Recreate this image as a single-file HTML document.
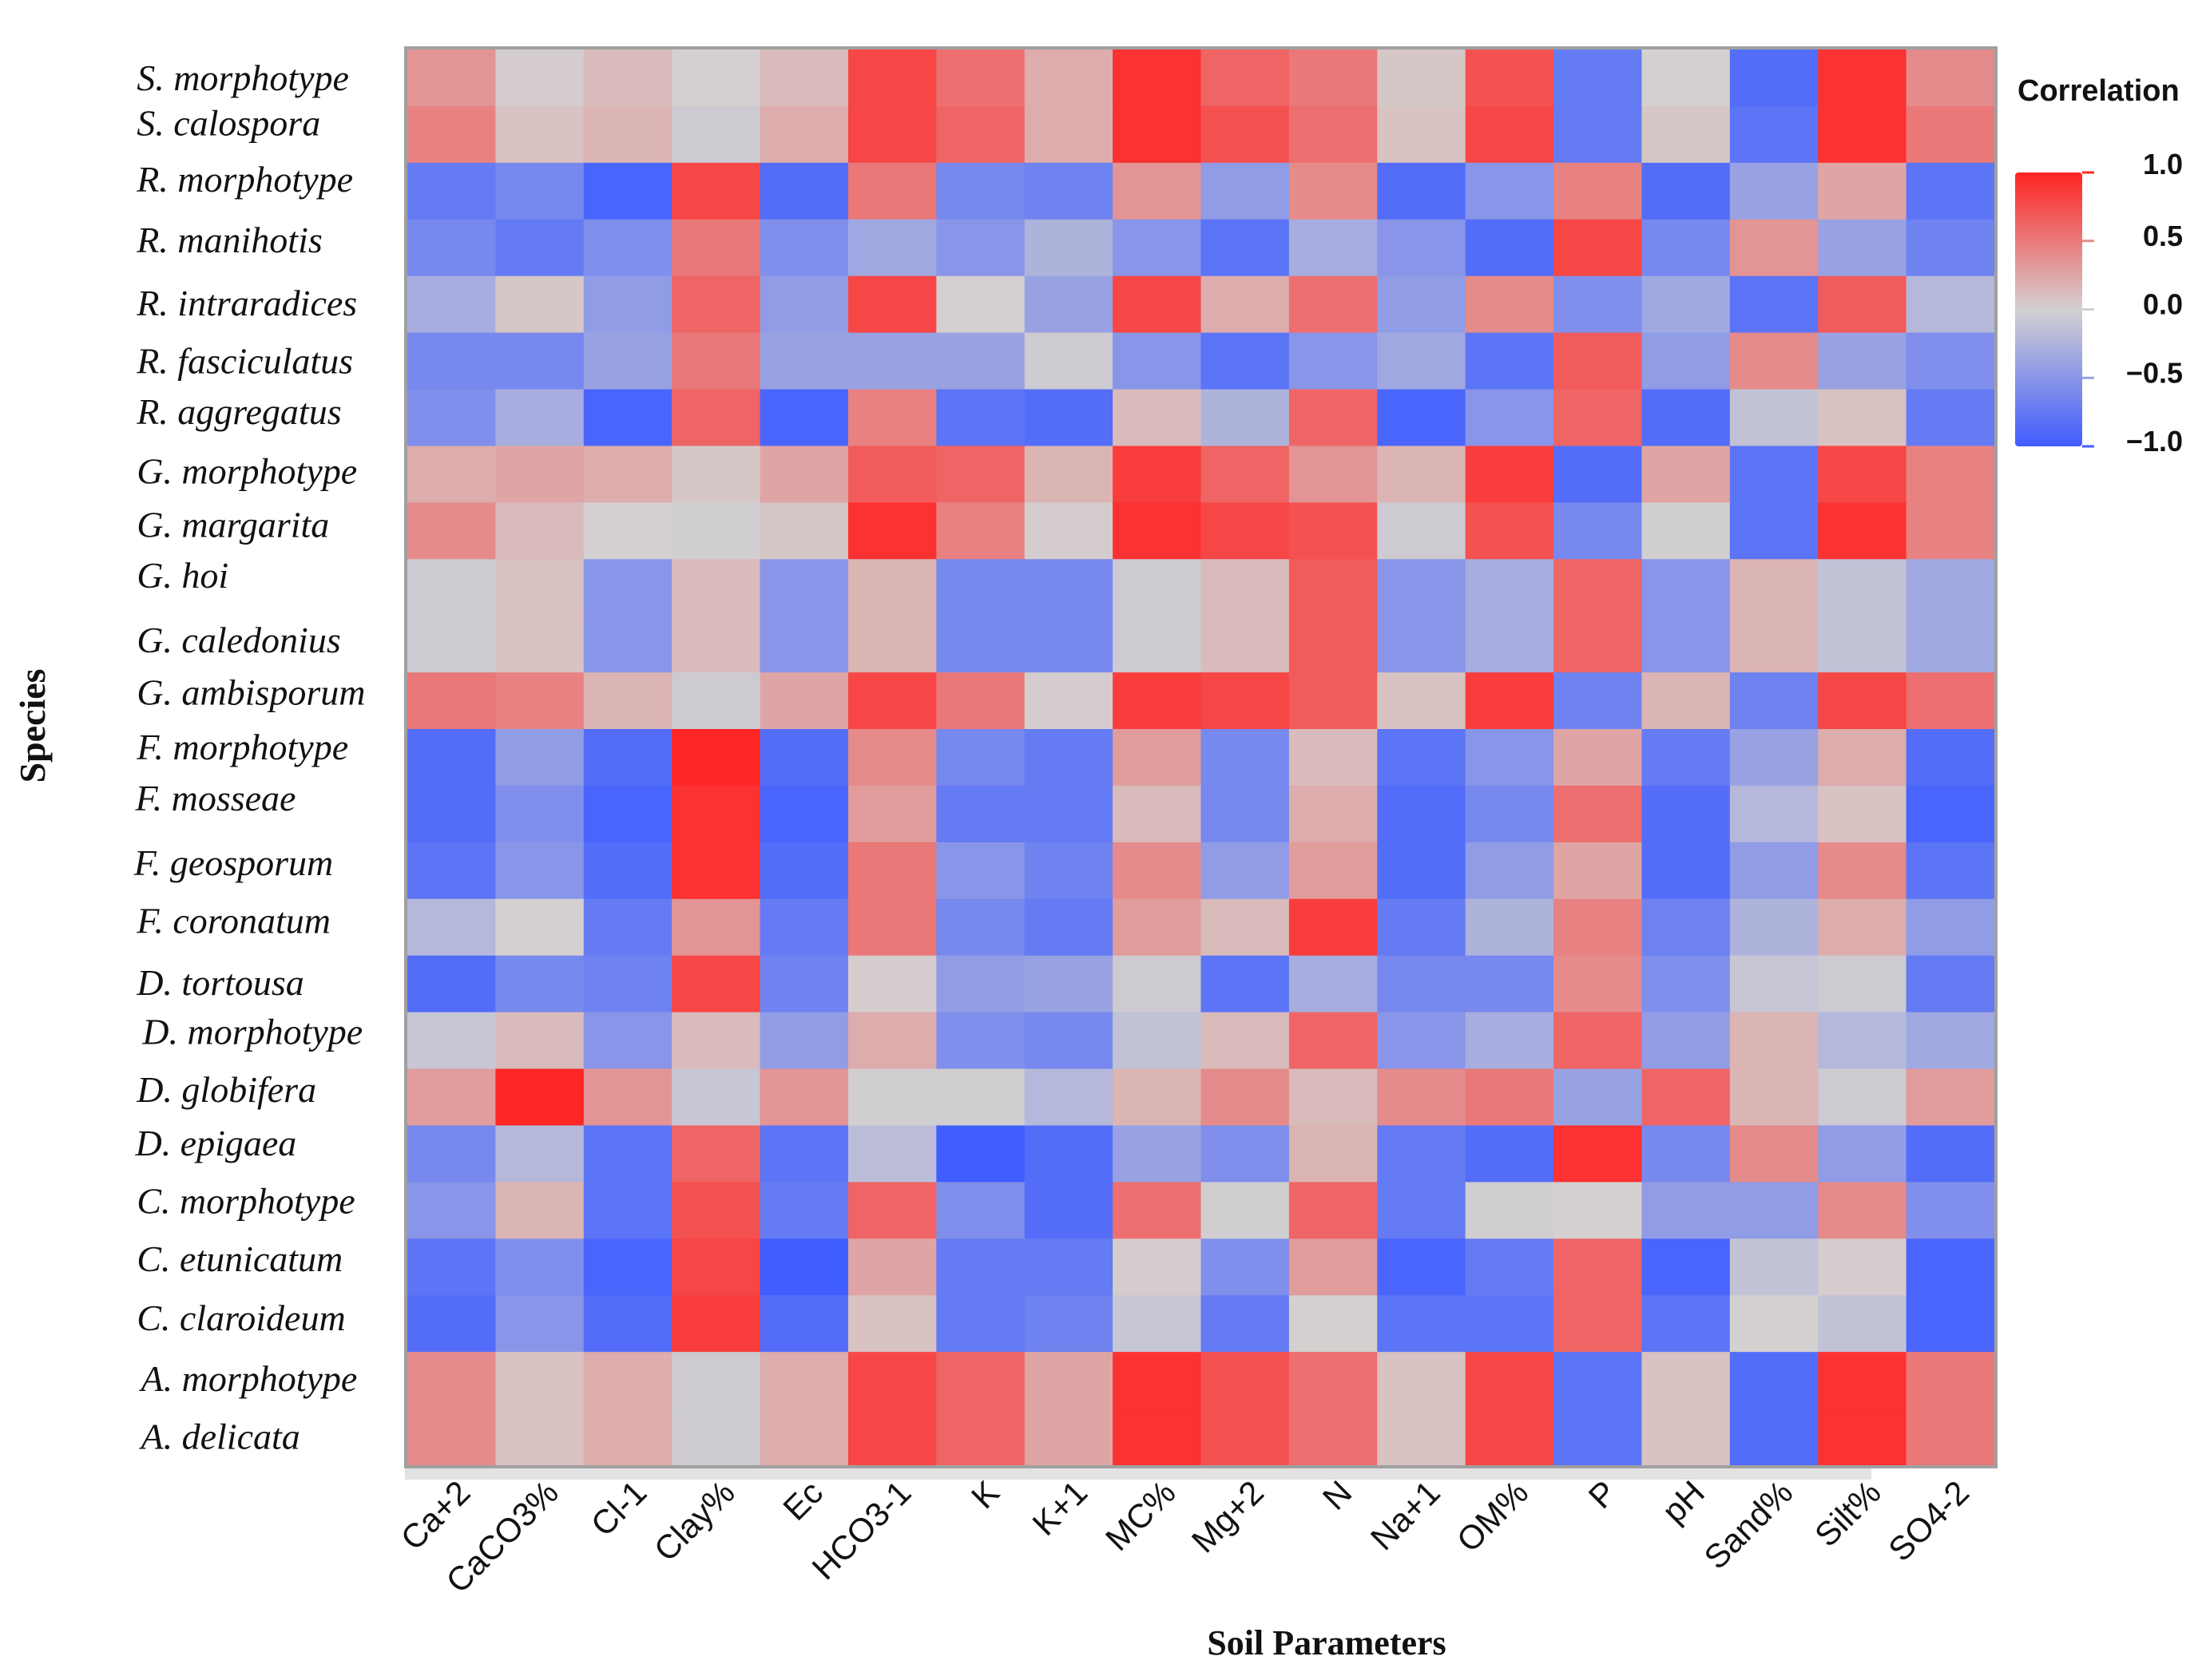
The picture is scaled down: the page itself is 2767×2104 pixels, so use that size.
<!DOCTYPE html>
<html><head><meta charset="utf-8"><style>
html,body{margin:0;padding:0;background:#fff;}
svg{display:block;}
.yl{font-family:"Liberation Serif",serif;font-style:italic;font-size:46px;fill:#111;}
.xl{font-family:"Liberation Sans",sans-serif;font-size:42px;fill:#111;}
.lg{font-family:"Liberation Sans",sans-serif;font-weight:bold;font-size:36px;fill:#111;}
</style></head><body>
<svg id="chart" width="2767" height="2104" viewBox="0 0 2767 2104">
<defs><linearGradient id="cb" x1="0" y1="0" x2="0" y2="1">
<stop offset="0" stop-color="rgb(255,35,35)"/><stop offset="0.5" stop-color="rgb(212,208,208)"/><stop offset="1" stop-color="rgb(64,92,255)"/>
</linearGradient></defs>
<g id="cells"></g>
<rect x="508" y="60" width="1991" height="1777" fill="none" stroke="#a0a0a0" stroke-width="4"/>
<rect x="507" y="1839" width="1836" height="14" fill="#e2e2e2"/>
<g id="ylabels"></g>
<g id="xlabels"></g>
<text x="1661" y="2072" text-anchor="middle" style="font-family:'Liberation Serif',serif;font-weight:bold;font-size:44px" fill="#111">Soil Parameters</text>
<text x="0" y="0" transform="translate(56,909) rotate(-90)" text-anchor="middle" style="font-family:'Liberation Serif',serif;font-weight:bold;font-size:46px" fill="#111">Species</text>
<g>
<text class="lg" x="2526" y="126" style="font-size:38px">Correlation</text>
<rect x="2523" y="216" width="84" height="343" rx="4" fill="url(#cb)"/>
<g id="legticks"></g>
</g>
</svg>
<script>
const species = ["S. morphotype","S. calospora","R. morphotype","R. manihotis","R. intraradices","R. fasciculatus","R. aggregatus","G. morphotype","G. margarita","G. hoi","G. caledonius","G. ambisporum","F. morphotype","F. mosseae","F. geosporum","F. coronatum","D. tortousa","D. morphotype","D. globifera","D. epigaea","C. morphotype","C. etunicatum","C. claroideum","A. morphotype","A. delicata"];
const params = ["Ca+2","CaCO3%","Cl-1","Clay%","Ec","HCO3-1","K","K+1","MC%","Mg+2","N","Na+1","OM%","P","pH","Sand%","Silt%","SO4-2"];
const legendTicks = [1.0,0.5,0.0,-0.5,-1.0];
const legendTickLabels = ["1.0","0.5","0.0","\u22120.5","\u22121.0"];
const corr = [
[0.45,0.05,0.2,0.0,0.2,0.85,0.65,0.3,0.95,0.7,0.6,0.1,0.8,-0.8,0.0,-0.9,0.95,0.5],
[0.55,0.15,0.25,-0.1,0.3,0.85,0.7,0.3,0.95,0.8,0.65,0.15,0.85,-0.8,0.1,-0.85,0.95,0.6],
[-0.8,-0.7,-0.95,0.85,-0.9,0.6,-0.7,-0.75,0.45,-0.55,0.5,-0.9,-0.6,0.55,-0.9,-0.5,0.35,-0.85],
[-0.7,-0.8,-0.65,0.6,-0.65,-0.45,-0.6,-0.35,-0.6,-0.85,-0.4,-0.6,-0.9,0.85,-0.7,0.45,-0.5,-0.75],
[-0.4,0.1,-0.55,0.7,-0.55,0.85,0.0,-0.5,0.85,0.3,0.65,-0.55,0.5,-0.65,-0.45,-0.85,0.75,-0.3],
[-0.7,-0.7,-0.5,0.6,-0.5,-0.5,-0.5,-0.1,-0.6,-0.85,-0.6,-0.45,-0.85,0.75,-0.55,0.5,-0.5,-0.65],
[-0.65,-0.4,-0.95,0.7,-0.95,0.55,-0.85,-0.9,0.2,-0.35,0.7,-0.95,-0.6,0.7,-0.9,-0.2,0.15,-0.8],
[0.3,0.35,0.3,0.1,0.35,0.75,0.7,0.25,0.9,0.7,0.45,0.25,0.9,-0.9,0.35,-0.85,0.85,0.55],
[0.5,0.2,0.0,-0.05,0.1,0.95,0.55,0.05,0.95,0.85,0.8,-0.1,0.8,-0.7,-0.05,-0.85,0.95,0.55],
[-0.1,0.15,-0.6,0.2,-0.6,0.25,-0.7,-0.7,-0.1,0.2,0.75,-0.6,-0.4,0.7,-0.6,0.25,-0.2,-0.45],
[-0.1,0.15,-0.6,0.2,-0.6,0.25,-0.7,-0.7,-0.1,0.2,0.75,-0.6,-0.4,0.7,-0.6,0.25,-0.2,-0.45],
[0.6,0.55,0.25,-0.1,0.35,0.85,0.6,0.05,0.9,0.85,0.75,0.15,0.9,-0.75,0.25,-0.75,0.85,0.65],
[-0.9,-0.55,-0.9,1.0,-0.9,0.5,-0.7,-0.8,0.4,-0.7,0.2,-0.85,-0.6,0.35,-0.8,-0.5,0.3,-0.9],
[-0.9,-0.65,-0.95,0.95,-0.95,0.4,-0.8,-0.8,0.2,-0.7,0.3,-0.9,-0.7,0.65,-0.9,-0.3,0.15,-0.95],
[-0.85,-0.6,-0.9,0.95,-0.9,0.6,-0.6,-0.75,0.5,-0.55,0.4,-0.9,-0.55,0.35,-0.9,-0.55,0.5,-0.85],
[-0.3,0.0,-0.8,0.45,-0.8,0.6,-0.7,-0.8,0.4,0.2,0.9,-0.8,-0.35,0.55,-0.75,-0.35,0.3,-0.55],
[-0.9,-0.7,-0.75,0.85,-0.75,0.05,-0.55,-0.5,-0.1,-0.85,-0.4,-0.7,-0.7,0.5,-0.65,-0.15,-0.1,-0.8],
[-0.15,0.2,-0.6,0.2,-0.55,0.3,-0.65,-0.7,-0.2,0.2,0.7,-0.6,-0.4,0.7,-0.55,0.25,-0.3,-0.45],
[0.4,1.0,0.45,-0.15,0.45,-0.05,-0.05,-0.3,0.25,0.5,0.2,0.5,0.6,-0.5,0.7,0.25,-0.1,0.4],
[-0.7,-0.3,-0.85,0.7,-0.85,-0.25,-1.0,-0.9,-0.5,-0.65,0.25,-0.8,-0.9,0.95,-0.7,0.5,-0.55,-0.9],
[-0.6,0.25,-0.85,0.8,-0.8,0.7,-0.65,-0.9,0.65,-0.05,0.7,-0.8,-0.05,0.0,-0.55,-0.55,0.5,-0.65],
[-0.85,-0.65,-0.95,0.85,-1.0,0.35,-0.8,-0.8,0.05,-0.65,0.4,-0.95,-0.8,0.7,-0.95,-0.2,0.05,-0.95],
[-0.9,-0.6,-0.9,0.9,-0.9,0.15,-0.8,-0.75,-0.15,-0.8,0.0,-0.85,-0.85,0.7,-0.85,0.0,-0.2,-0.95],
[0.5,0.15,0.3,-0.1,0.3,0.85,0.7,0.35,0.95,0.8,0.65,0.15,0.85,-0.85,0.15,-0.9,0.95,0.6],
[0.5,0.15,0.3,-0.1,0.3,0.85,0.7,0.35,0.95,0.8,0.65,0.15,0.85,-0.85,0.15,-0.9,0.95,0.6]
];
const NS="http://www.w3.org/2000/svg";
const X0=510,X1=2497,Y0=62,Y1=1835;
const cw=(X1-X0)/params.length, ch=(Y1-Y0)/species.length;
function xPos(i){return X0+i*cw;}
function yPos(j){return Y0+j*ch;}
function color(v){
  const red=[255,38,38],mid=[212,208,208],blue=[64,94,255];
  const t=Math.pow(Math.min(1,Math.abs(v)),1.3); const e=v>=0?red:blue;
  const c=mid.map((m,k)=>Math.round(m+(e[k]-m)*t));
  return "rgb("+c.join(",")+")";
}
const cells=document.getElementById("cells");
corr.forEach((row,j)=>row.forEach((v,i)=>{
  const r=document.createElementNS(NS,"rect");
  r.setAttribute("x",xPos(i));r.setAttribute("y",yPos(j));
  r.setAttribute("width",cw+0.6);r.setAttribute("height",ch+0.6);
  r.setAttribute("fill",color(v));
  
  
  cells.appendChild(r);
}));
// label layout (display positions, not data)
const labelY=[56,88,128,171,216,257,293,335,373,409,455,492,531,567,613,654,698,733,774,812,853,894,936,979,1020];
const labelX=[97,97,97,97,97,97,97,97,97,97,97,97,97,96,95,97,97,101,97,96,97,97,97,100,100];
const S=1.765;
const yl=document.getElementById("ylabels");
species.forEach((s,j)=>{
  const t=document.createElementNS(NS,"text");
  t.setAttribute("class","yl");t.setAttribute("x",labelX[j]*S);
  t.setAttribute("y",labelY[j]*S+14);
  t.textContent=s;
  
  
  yl.appendChild(t);
});
const xl=document.getElementById("xlabels");
params.forEach((p,i)=>{
  const cx=xPos(i)+cw/2+26, cy=1872;
  const t=document.createElementNS(NS,"text");
  t.setAttribute("class","xl");t.setAttribute("text-anchor","end");
  t.setAttribute("x",cx);t.setAttribute("y",cy);
  t.setAttribute("transform","rotate(-45 "+cx+" "+cy+")");
  t.textContent=p;
  
  
  xl.appendChild(t);
});
const lt=document.getElementById("legticks");
const LY0=216,LY1=559;
function ly(v){return LY0+(1-v)/2*(LY1-LY0);}
legendTicks.forEach((v,k)=>{
  const y=ly(v);
  const l=document.createElementNS(NS,"line");
  l.setAttribute("x1",2607);l.setAttribute("x2",2622);l.setAttribute("y1",y);l.setAttribute("y2",y);
  l.setAttribute("stroke",color(v));l.setAttribute("stroke-width",3);
  
  
  lt.appendChild(l);
  const t=document.createElementNS(NS,"text");
  t.setAttribute("class","lg");t.setAttribute("text-anchor","end");
  t.setAttribute("x",2733);t.setAttribute("y",y+(k===0?2:6));
  t.textContent=legendTickLabels[k];
  
  
  lt.appendChild(t);
});
</script>
</body></html>
